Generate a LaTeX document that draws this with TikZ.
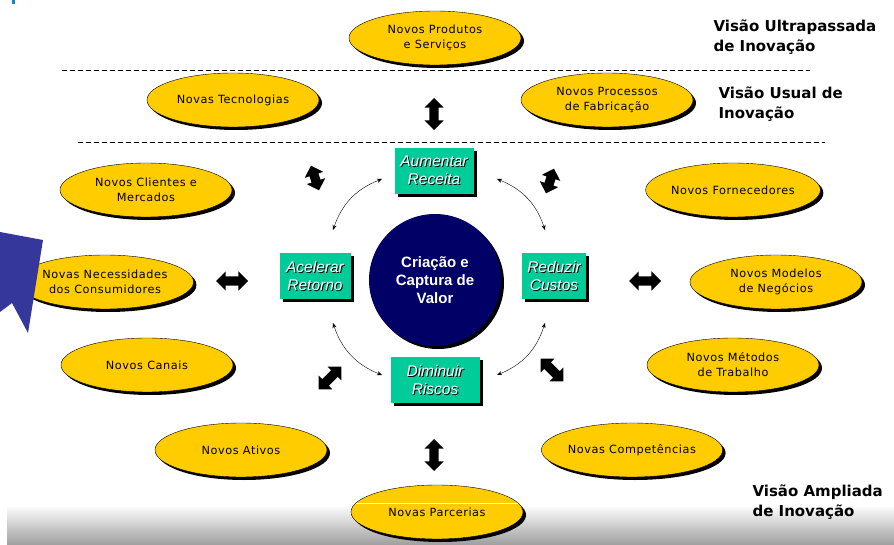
\documentclass[tikz,border=0pt]{standalone}
\usepackage{fontspec}
\setmainfont{Liberation Sans}
\newfontfamily\elfont[LetterSpace=5]{DejaVu Sans}
\newfontfamily\visfont{DejaVu Sans}
\usetikzlibrary{shapes.geometric,shapes.arrows,shadows,arrows.meta}

\definecolor{amarelo}{HTML}{FFCC00}
\definecolor{verde}{HTML}{00CC99}
\definecolor{azul}{HTML}{000066}
\definecolor{fita}{HTML}{35379A}

\newcommand\txtsombra[1]{\rlap{\color{black}\hspace{1pt}\raisebox{-1pt}{#1}}#1}

\tikzset{
  ideia/.style={ellipse, draw=black, fill=amarelo, minimum width=172pt, minimum height=54pt,
    inner sep=0pt, align=center, font=\elfont\fontsize{11.3}{15}\selectfont,
    drop shadow={shadow xshift=3pt, shadow yshift=-3pt, fill=black, opacity=1}},
  acao/.style={fill=verde, text=white, minimum height=46pt, inner sep=0pt, align=center,
    font=\itshape\fontsize{15.5}{18}\selectfont,
    drop shadow={shadow xshift=3pt, shadow yshift=-3pt, fill=black, opacity=1}},
  bloco/.style={double arrow, fill=black, minimum height=32pt, inner sep=4.5pt,
    double arrow head extend=5pt},
  giro/.style={{Stealth[length=5pt,width=4pt]}-{Stealth[length=5pt,width=4pt]}, bend right=25},
  visao/.style={anchor=west, align=left, font=\visfont\bfseries\fontsize{15}{20}\selectfont}
}

\begin{document}
\begin{tikzpicture}[x=1pt,y=-1pt]
\useasboundingbox (0,0) rectangle (894,545);

% faixa cinza do rodape
\shade[top color=white, bottom color=black!38] (7,505) rectangle (894,545);
\fill[cyan!70!blue] (12,0) rectangle (15,4);

% linhas tracejadas
\draw[dash pattern=on 5pt off 3pt] (62,70) -- (810,70);
\draw[dash pattern=on 5pt off 3pt] (78,142) -- (825,142);

% elipses
\node[ideia] (prod) at (435,38) {Novos Produtos\\e Serviços};
\node[ideia] (tec) at (233,100) {Novas Tecnologias};
\node[ideia] (proc) at (607,100) {Novos Processos\\de Fabricação};
\node[ideia] (cli) at (146,190) {Novos Clientes e\\Mercados};
\node[ideia] (forn) at (733,190) {Novos Fornecedores};
\node[ideia] (nec) at (105,282) {Novas Necessidades\\dos Consumidores};
\node[ideia] (mod) at (776,282) {Novos Modelos\\de Negócios};
\node[ideia] (can) at (147,365) {Novos Canais};
\node[ideia] (met) at (733,365) {Novos Métodos\\de Trabalho};
\node[ideia] (ativ) at (241,450) {Novos Ativos};
\node[ideia] (comp) at (632,450) {Novas Competências};
\node[ideia] (parc) at (437,512) {Novas Parcerias};
\draw[white] (356,503) -- (518,503);

% fita azul
\fill[fita] (0,232) -- (43,240) -- (28,333) -- (12,303) -- (0,312) -- cycle;

% rotulos das visoes
\node[visao] (ultra) at (710,37) {Visão Ultrapassada\\de Inovação};
\node[visao] (usual) at (715,104) {Visão Usual de\\Inovação};
\node[visao] (ampl) at (749,502) {Visão Ampliada\\de Inovação};

% centro
\node[circle, fill=azul, minimum size=132pt, inner sep=0pt, text=white, align=center,
  font=\bfseries\fontsize{15}{18}\selectfont,
  drop shadow={shadow xshift=3pt, shadow yshift=-3pt, fill=black, opacity=1}]
  (valor) at (435,280) {Criação e\\Captura de\\Valor};

\node[acao, minimum width=79pt] (aum) at (434,171) {\txtsombra{Aumentar}\\\txtsombra{Receita}};
\node[acao, minimum width=71pt] (acel) at (315,276) {\txtsombra{Acelerar}\\\txtsombra{Retorno}};
\node[acao, minimum width=64pt] (red) at (554,276) {\txtsombra{Reduzir}\\\txtsombra{Custos}};
\node[acao, minimum width=89pt] (dim) at (435,380) {\txtsombra{Diminuir}\\\txtsombra{Riscos}};

% setas finas
\coordinate (tl1) at (382,179); \coordinate (tl2) at (333,230);
\coordinate (bl1) at (333,323); \coordinate (bl2) at (382,375);
\coordinate (br1) at (497,375); \coordinate (br2) at (545,323);
\coordinate (tr1) at (545,230); \coordinate (tr2) at (497,179);
\draw[giro] (tl1) to (tl2);
\draw[giro] (bl1) to (bl2);
\draw[giro] (br1) to (br2);
\draw[giro] (tr1) to (tr2);

% setas grossas
\node[bloco, rotate=90] (s1) at (434,114) {};
\node[bloco, rotate=90] (s2) at (434,455) {};
\node[bloco] (s3) at (232,281) {};
\node[bloco] (s4) at (645,281) {};
\node[bloco, rotate=-72, minimum height=26pt] (s5) at (315,178) {};
\node[bloco, rotate=72, minimum height=26pt] (s6) at (550,181) {};
\node[bloco, rotate=45] (s7) at (330,378) {};
\node[bloco, rotate=-45] (s8) at (552,370) {};

\end{tikzpicture}
\end{document}
